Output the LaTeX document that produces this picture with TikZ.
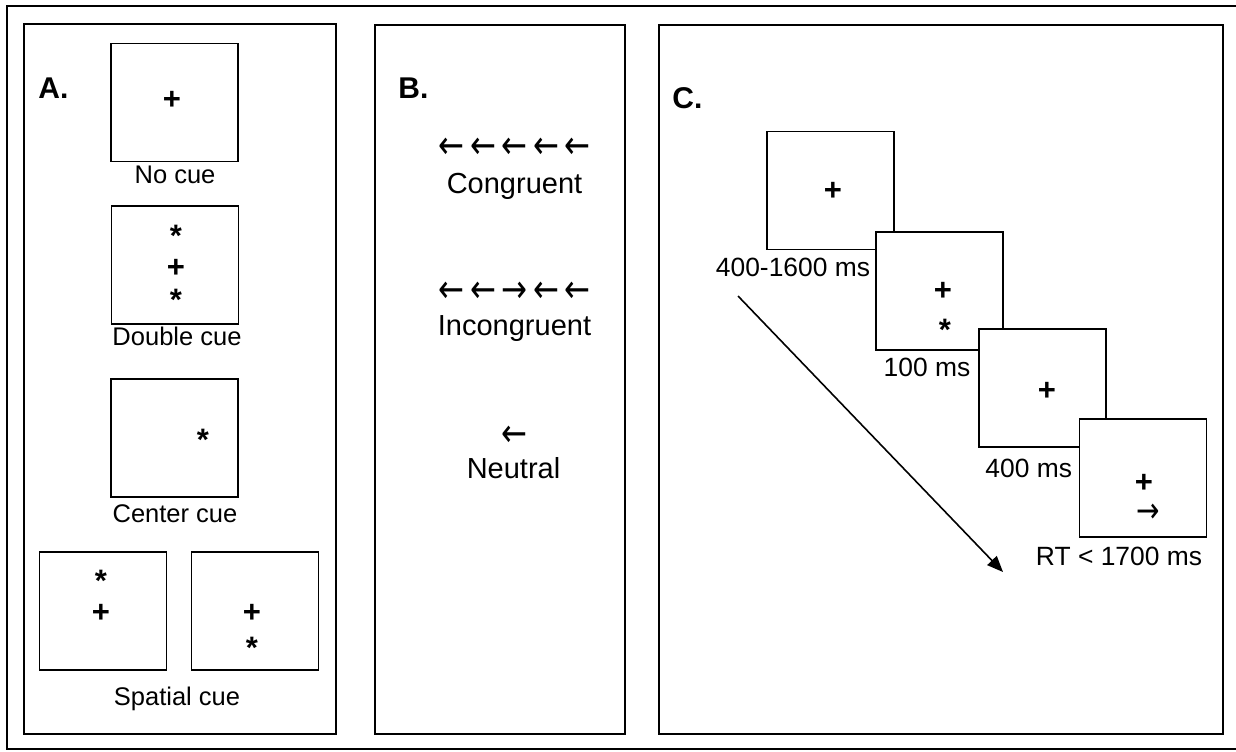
\documentclass[tikz,border=0pt]{standalone}
\usepackage{fontspec}
\setmainfont{Liberation Sans}
\newfontfamily\arrowfont{DejaVu Sans}
\usetikzlibrary{arrows.meta}
\newcommand{\la}{\makebox[15.75pt]{\scalebox{1}[1.25]{←}}}
\newcommand{\ra}{\makebox[15.75pt]{\scalebox{1}[1.25]{→}}}
\begin{document}
\begin{tikzpicture}[x=0.5pt,y=-0.5pt,
  panel/.style={draw,line width=0.9pt},
  stim/.style={draw,fill=white,line width=0.6pt,minimum width=63.5pt,minimum height=59pt,inner sep=0pt,outer sep=0pt},
  glyph/.style={inner sep=0pt,font=\fontsize{15.5}{16}\selectfont\bfseries},
  plet/.style={inner sep=0pt,anchor=base west,font=\fontsize{15}{16}\selectfont\bfseries},
  lbla/.style={inner sep=0pt,anchor=base,font=\fontsize{12.75}{14}\selectfont},
  lblb/.style={inner sep=0pt,anchor=base,font=\fontsize{14.5}{16}\selectfont},
  lblc/.style={inner sep=0pt,anchor=base,font=\fontsize{13.2}{15}\selectfont},
  arrb/.style={inner sep=0pt,font=\arrowfont\fontsize{15.5}{16}\selectfont},
  arrc/.style={inner sep=0pt,font=\arrowfont\fontsize{14}{15}\selectfont}
]
\useasboundingbox (0,0) rectangle (1236,751);
% outer frame (open on the right)
\draw[line width=0.9pt] (1236,6) -- (7,6) -- (7,749) -- (1236,749);
% panels
\draw[panel] (24,24) rectangle (336,734);
\draw[panel] (375,25) rectangle (625,734);
\draw[panel] (659,25) rectangle (1223,734);
% ---------- Panel A ----------
\node[plet] (la) at (38,98) {A.};
\node[stim] (a1) at (174.5,102.5) {};
\node[glyph] (a1p) at (172,100) {+};
\node[lbla] (a1l) at (175,183) {No cue};
\node[stim] (a2) at (175,265) {};
\node[glyph] (a2s1) at (176,236) {*};
\node[glyph] (a2p) at (176,268) {+};
\node[glyph] (a2s2) at (176,300) {*};
\node[lbla] (a2l) at (177,345) {Double cue};
\node[stim] (a3) at (174.5,438) {};
\node[glyph] (a3s) at (203,440) {*};
\node[lbla] (a3l) at (175,522) {Center cue};
\node[stim] (a4) at (103,611) {};
\node[glyph] (a4s) at (101,581) {*};
\node[glyph] (a4p) at (101,613) {+};
\node[stim] (a5) at (255,611) {};
\node[glyph] (a5p) at (252,613) {+};
\node[glyph] (a5s) at (252,648) {*};
\node[lbla] (a45l) at (177,705) {Spatial cue};
% ---------- Panel B ----------
\node[plet] (lb) at (398,98) {B.};
\node[arrb] (bc) at (514.5,148) {\la\la\la\la\la};
\node[lblb] (bcl) at (514.5,193) {Congruent};
\node[arrb] (bi) at (514.5,292) {\la\la\ra\la\la};
\node[lblb] (bil) at (514.5,335) {Incongruent};
\node[arrb] (bn) at (514.5,436) {\la};
\node[lblb] (bnl) at (513.5,478) {Neutral};
% ---------- Panel C ----------
\node[plet] (lc) at (672,108) {C.};
\node[stim] (c1) at (830.5,190.5) {};
\node[glyph] (c1p) at (833,191) {+};
\node[lblc] (c1l) at (793,276) {400-1600 ms};
\node[stim] (c2) at (939.5,291) {};
\node[glyph] (c2p) at (943,291) {+};
\node[glyph] (c2s) at (945,330) {*};
\node[lblc] (c2l) at (927,376) {100 ms};
\node[stim] (c3) at (1042.5,388) {};
\node[glyph] (c3p) at (1047,391) {+};
\node[lblc,anchor=base west] (c3l) at (985,477) {400 ms};
\node[stim] (c4) at (1143,478) {};
\node[glyph] (c4p) at (1144,483) {+};
\node[arrc] (c4a) at (1148,513) {\scalebox{1}[1.25]{→}};
\node[lblc] (c4l) at (1119,565) {RT < 1700 ms};
% time arrow
\coordinate (ts) at (738,296);
\coordinate (te) at (1003,572);
\draw[line width=0.8pt,-{Triangle[length=8pt,width=6.5pt]}] (ts) -- (te);
\end{tikzpicture}
\end{document}
